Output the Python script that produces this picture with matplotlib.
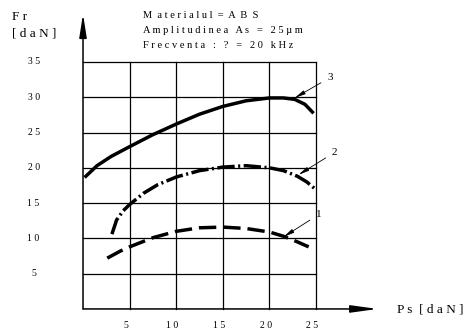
import matplotlib
matplotlib.use("Agg")
import matplotlib.pyplot as plt

plt.rcParams['font.family'] = ['Liberation Serif', 'DejaVu Serif']

# curves
ps_1 = [2.6, 4, 5, 7.5, 10, 12.5, 15, 17.5, 20, 21.5, 23, 24.2]
fr_1 = [7.2, 8.2, 8.8, 10.1, 11.0, 11.5, 11.6, 11.4, 10.9, 10.3, 9.5, 8.8]

ps_2 = [3.1, 3.6, 4.3, 5, 6.5, 8, 10, 12.5, 15, 17.5, 20, 21.5, 23, 24, 24.9]
fr_2 = [10.6, 12.6, 13.9, 14.8, 16.4, 17.6, 18.7, 19.6, 20.1, 20.3, 20.0, 19.6, 18.8, 18.0, 17.0]

ps_3 = [0.3, 1.5, 3, 5, 7.5, 10, 12.5, 15, 17.5, 20, 21.5, 22.7, 23.8, 24.6]
fr_3 = [18.8, 20.3, 21.6, 23.0, 24.7, 26.2, 27.6, 28.7, 29.5, 29.9, 29.9, 29.7, 29.0, 27.9]

x_ticks = [5, 10, 15, 20, 25]
x_labels = ["5", "1 0", "1 5", "2 0", "2 5"]
y_ticks = [5, 10, 15, 20, 25, 30, 35]
y_labels = ["5", "1 0", "1 5", "2 0", "2 5", "3 0", "3 5"]

# label number, arrow tip, text position
labels = [("1", (21.5, 10.2), (25.3, 13.4)),
          ("2", (23.1, 19.0), (27.0, 22.2)),
          ("3", (22.7, 29.9), (26.5, 32.8))]

info = ["M  a t e r i a l u l  =  A  B  S",
        "A m p l i t u d i n e a   A s   =   2 5 µ m",
        "F r e c v e n t a   :   ?   =   2 0   k H z"]

fig = plt.figure(figsize=(4.69, 3.34), dpi=100)
ax = fig.add_axes([0.177, 0.075, 0.497, 0.7395])
ax.set_xlim(0, 25)
ax.set_ylim(0, 35)
for s in ax.spines.values():
    s.set_visible(False)
ax.set_xticks([])
ax.set_yticks([])

# grid
for y in y_ticks:
    ax.plot([0, 25], [y, y], color="black", lw=0.9, clip_on=False)
for x in x_ticks:
    ax.plot([x, x], [0, 35], color="black", lw=0.9, clip_on=False)

# axes with arrows
ax.annotate("", xy=(31.6, 0), xytext=(0, 0), annotation_clip=False,
            arrowprops=dict(arrowstyle="-|>,head_length=1.6,head_width=0.22",
                            color="black", lw=1.1, shrinkA=0, shrinkB=0))
ax.annotate("", xy=(0, 41.8), xytext=(0, 0), annotation_clip=False,
            arrowprops=dict(arrowstyle="-|>,head_length=1.4,head_width=0.22",
                            color="black", lw=1.1, shrinkA=0, shrinkB=0))

# curves
ax.plot(ps_1, fr_1, color="black", lw=2.5, dashes=(5, 2), clip_on=False)
ax.plot(ps_2, fr_2, color="black", lw=2.5, dashes=(5, 1, 0.6, 1), clip_on=False)
ax.plot(ps_3, fr_3, color="black", lw=2.5, clip_on=False)

for name, tip, pos in labels:
    ax.annotate(name, xy=tip, xytext=pos, fontsize=8, ha="center", va="center",
                annotation_clip=False,
                arrowprops=dict(arrowstyle="-|>,head_length=0.8,head_width=0.15",
                                color="black", lw=0.6, shrinkA=3, shrinkB=0))

# tick labels
for x, t in zip(x_ticks, x_labels):
    ax.text(x - 0.4, -2.3, t, fontsize=7, ha="center", va="center")
for y, t in zip(y_ticks, y_labels):
    ax.text(-5.3, y, t, fontsize=7, ha="center", va="center")

# axis titles
fig.text(20 / 469, 1 - 17 / 334, "F r", fontsize=9.5, ha="center", va="center")
fig.text(34 / 469, 1 - 33 / 334, "[ d a N ]", fontsize=9.5, ha="center", va="center")
fig.text(397 / 469, 1 - 309 / 334, "P s  [ d a N ]", fontsize=9.5, ha="left", va="center")

# info block
for i, line in enumerate(info):
    fig.text(143 / 469, 1 - (16 + 14.5 * i) / 334, line, fontsize=7.5, ha="left", va="center")

fig.savefig("out.png", dpi=100)
